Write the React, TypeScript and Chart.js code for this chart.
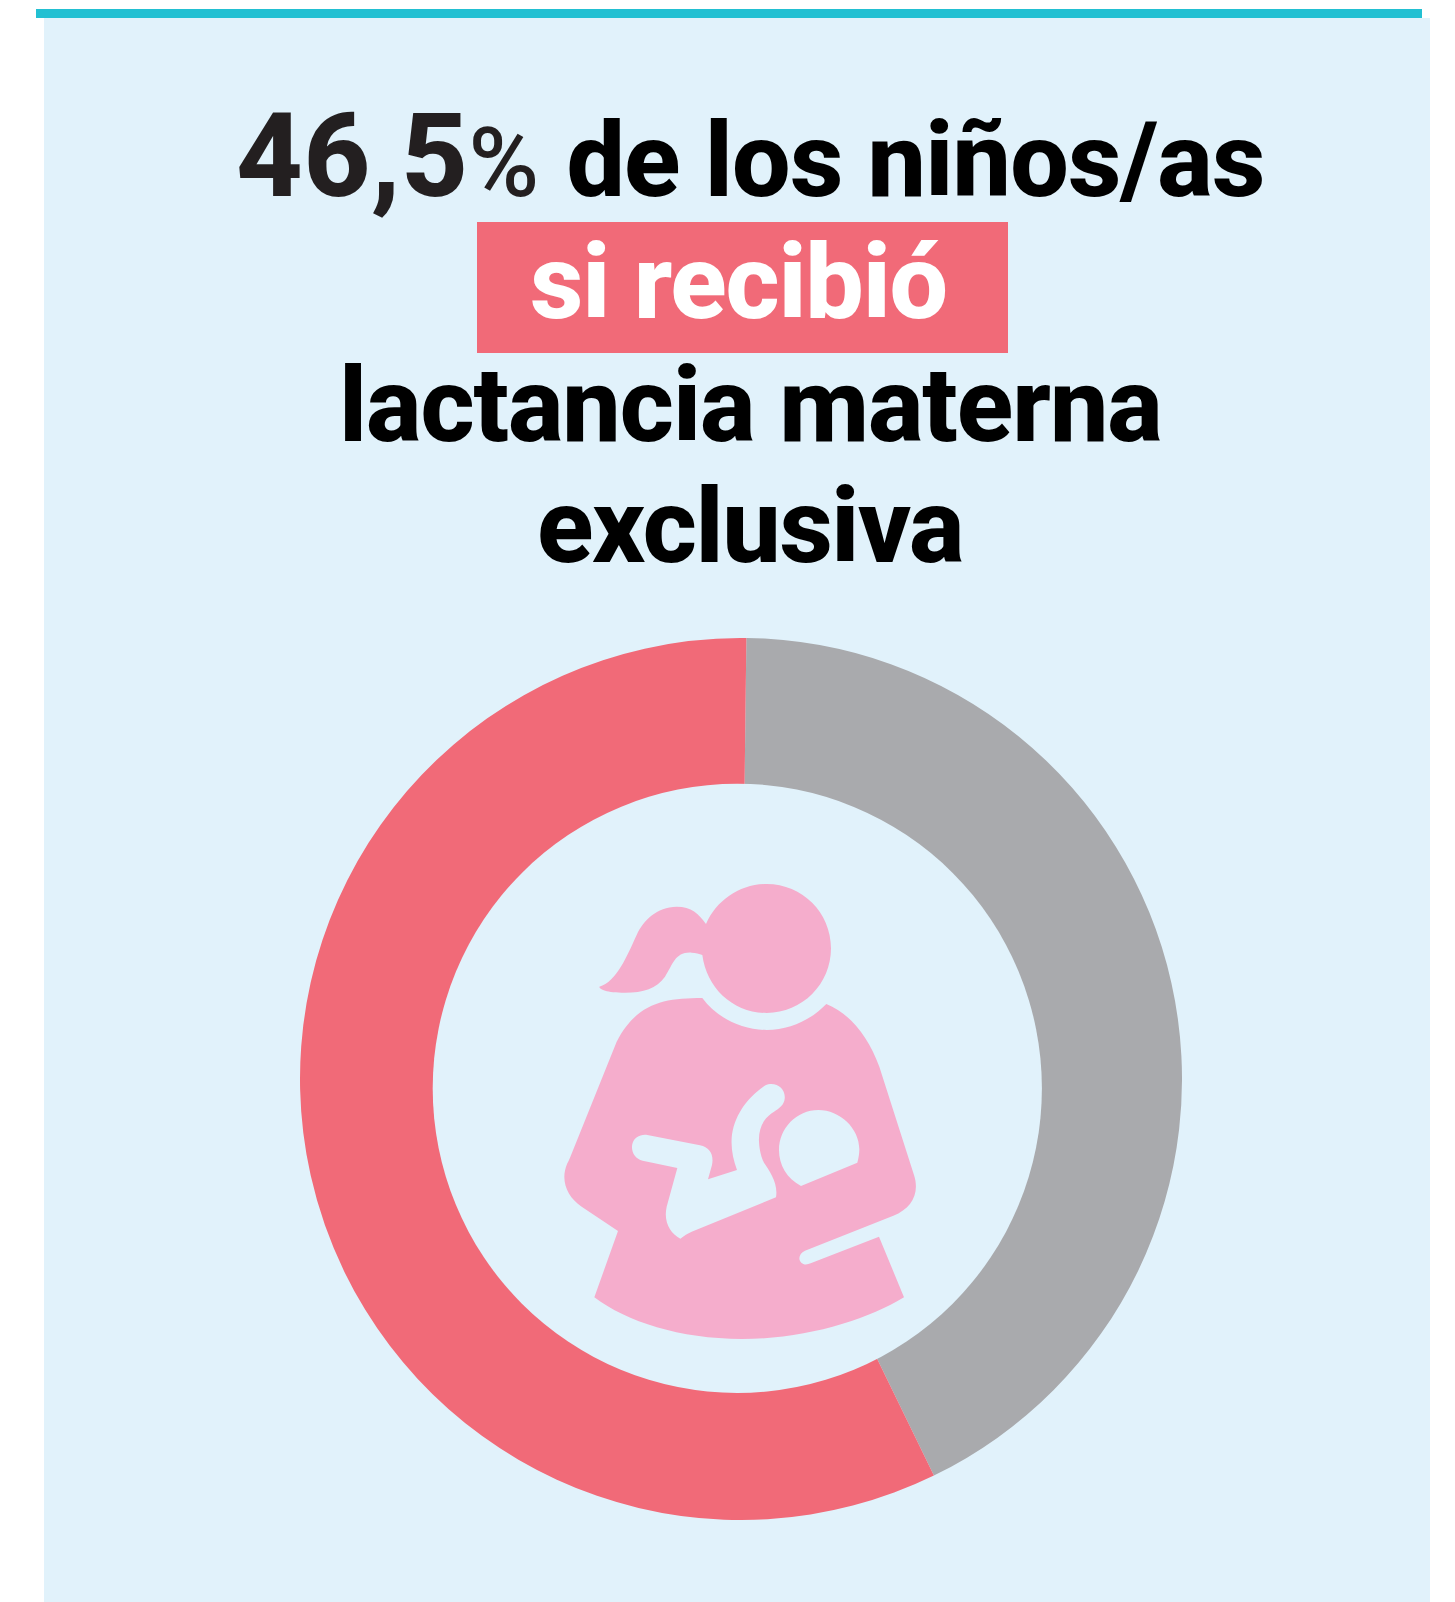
import React, { useEffect, useRef } from "react";
import { Chart, registerables } from "chart.js";

Chart.register(...registerables);

const sliceLabels = ["No recibió", "Sí recibió"];
const sliceValues = [42.6, 57.4];
const sliceColors = ["#A9AAAD", "#F16A78"];

const PANEL = "#E1F2FB";
const ICON = "#F5ADCC";

const headPath =
  "M498,192 C475,160 455,140 410,140 C350,142 310,180 290,225 C260,290 230,365 178,380 C178,388 200,398 255,398 C310,398 350,385 375,350 C400,312 405,275 455,278 C467,278 478,282 487,285 C500,385 580,459 680,459 C787,459 873,372 873,265 C873,158 787,72 680,72 C600,72 530,120 498,192 Z";
const bodyPath =
  "M487,414 C530,475 610,510 680,510 C750,510 815,478 859,432 C930,460 985,530 1018,620 L1122,945 C1140,1000 1115,1045 1060,1067 L795,1172 C775,1180 772,1205 790,1212 C797,1215 805,1213 812,1210 L1017,1130 L1092,1312 C980,1380 800,1437 605,1437 C420,1437 260,1385 163,1312 L234,1113 L125,1040 C80,1010 60,960 82,910 C85,905 88,898 90,893 L230,545 C290,430 370,414 487,414 Z " +
  "M690,672 C720,670 740,695 733,722 C728,740 712,748 695,760 C670,778 655,805 657,845 C658,870 665,895 672,908 C690,935 715,970 708,1012 L455,1115 C443,1120 432,1127 421,1136 C390,1120 370,1085 380,1040 L412,924 L308,902 C285,897 272,875 277,852 C282,833 300,822 322,825 L480,856 C510,862 522,885 516,915 L504,958 L591,930 C580,900 573,870 575,835 C580,770 620,715 670,680 C677,675 683,672 690,672 Z " +
  "M783,978 C740,955 717,915 717,870 C717,805 770,750 835,750 C900,750 958,805 958,868 C958,880 956,895 952,908 Z";

const line: React.CSSProperties = {
  position: "absolute",
  whiteSpace: "nowrap",
  fontFamily: "Roboto, sans-serif",
  fontWeight: 800,
  fontSize: 104,
  lineHeight: "104px",
  letterSpacing: -1.4,
  color: "#000",
};

export default function App() {
  const ref = useRef<HTMLCanvasElement>(null);
  useEffect(() => {
    const chart = new Chart(ref.current!, {
      type: "doughnut",
      data: {
        labels: sliceLabels,
        datasets: [{ data: sliceValues, backgroundColor: sliceColors, borderWidth: 0 }],
      },
      options: {
        animation: false,
        responsive: false,
        maintainAspectRatio: false,
        cutout: "65%",
        rotation: 0.7,
        layout: { padding: 0 },
        plugins: { legend: { display: false }, tooltip: { enabled: false } },
      },
    });
    return () => chart.destroy();
  }, []);

  return (
    <div style={{ position: "absolute", left: 0, top: 0, width: 1455, height: 1602, background: "#fff", overflow: "hidden" }}>
      <div style={{ position: "absolute", left: 44, top: 18, width: 1386, height: 1584, background: PANEL }} />
      <div style={{ position: "absolute", left: 36, top: 9, width: 1386, height: 9, background: "#22C0D2" }} />
      <div style={{ position: "absolute", left: 477, top: 222, width: 531, height: 131, background: "#F16A78" }} />

      <div style={{ ...line, left: 236, top: 109, letterSpacing: -0.8 }}>
        <span style={{ fontSize: 116, lineHeight: 0, fontWeight: 800, letterSpacing: 0.5, color: "#231F20" }}>46,5</span>
        <span style={{ fontSize: 96, lineHeight: 0, fontWeight: 500, letterSpacing: 2, color: "#231F20" }}>%</span>
        <span> de los niños/as</span>
      </div>
      <div style={{ ...line, left: 530, top: 231, color: "#fff", letterSpacing: -1.2 }}>si recibió</div>
      <div style={{ ...line, left: 339, top: 354, letterSpacing: -1.05 }}>lactancia materna</div>
      <div style={{ ...line, left: 537, top: 475 }}>exclusiva</div>

      <canvas ref={ref} width={882} height={882} style={{ position: "absolute", left: 300, top: 638, width: 882, height: 882 }} />

      <svg width={1455} height={1602} style={{ position: "absolute", left: 0, top: 0 }}>
        <circle cx={737.3} cy={1088.3} r={304.6} fill={PANEL} />
        <g transform="translate(540,860) scale(0.33333)" fill={ICON} fillRule="evenodd">
          <path d={headPath} />
          <path d={bodyPath} />
        </g>
      </svg>
    </div>
  );
}
